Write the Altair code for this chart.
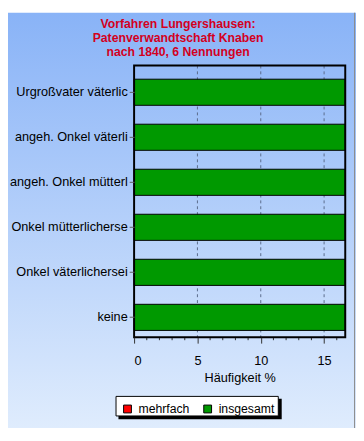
import altair as alt
import pandas as pd

categories = ["Urgroßvater väterlic", "angeh. Onkel väterli", "angeh. Onkel mütterl",
              "Onkel mütterlicherse", "Onkel väterlichersei", "keine"]
values = [16.67, 16.67, 16.67, 16.67, 16.67, 16.67]
series = ["insgesamt"] * 6
legend_names = ["mehrfach", "insgesamt"]
legend_colors = ["#ff0000", "#009900"]
grid_values = [5, 10, 15]
major_ticks = [0, 5, 10, 15]
minor_ticks = [1, 2, 3, 4, 6, 7, 8, 9, 11, 12, 13, 14, 16]
title_lines = ["Vorfahren Lungershausen:", "Patenverwandtschaft Knaben", "nach 1840, 6 Nennungen"]

df = pd.DataFrame({"cat": categories, "val": values, "series": series})

FONT = "Liberation Sans"
W, H = 216, 278
one = alt.Data(values=[{"a": 1}])
xscale = alt.Scale(domain=[0, 16.67], nice=False)

bg = alt.Chart(one).mark_rect(
    color=alt.Gradient(gradient="linear", x1=0, y1=0, x2=0, y2=1,
                       stops=[alt.GradientStop(offset=0, color="#89b3f7"),
                              alt.GradientStop(offset=1, color="#dfecfd")])
).encode(x=alt.value(-129), x2=alt.value(227), y=alt.value(-54), y2=alt.value(371))

edge = alt.Chart(one).mark_rule(color="#8a8a8a", strokeWidth=1).encode(
    x=alt.value(225.5), y=alt.value(-54), y2=alt.value(371))

title = alt.Chart(alt.Data(values=[{"t": "\n".join(title_lines)}])).mark_text(
    lineBreak="\n", fontSize=12.5, fontWeight="bold", color="#d4001e", font=FONT,
    lineHeight=14, align="center", baseline="middle"
).encode(text="t:N", x=alt.value(45), y=alt.value(-42))

grid = alt.Chart(pd.DataFrame({"g": grid_values})).mark_rule(
    color="#5a6a8a", strokeDash=[3, 3], strokeWidth=1
).encode(x=alt.X("g:Q", scale=xscale))

minor = alt.Chart(pd.DataFrame({"m": minor_ticks})).mark_rule(
    color="#303030", strokeWidth=1
).encode(x=alt.X("m:Q", scale=xscale), y=alt.value(H), y2=alt.value(H + 3))

bars = alt.Chart(df).mark_bar(stroke="#000000", strokeWidth=1).encode(
    x=alt.X("val:Q", scale=xscale,
            axis=alt.Axis(values=major_ticks, title="Häufigkeit %", tickSize=6,
                          labelPadding=12, titlePadding=4, grid=False, domain=False,
                          labelOverlap=False, tickColor="#303030", zindex=1)),
    y=alt.Y("cat:N", sort=categories,
            scale=alt.Scale(paddingInner=0.42, paddingOuter=0, range=[14, 271]),
            axis=alt.Axis(title=None, tickSize=5, labelPadding=2, grid=False, domain=False,
                          tickColor="#606060", zindex=1)),
    color=alt.Color("series:N", scale=alt.Scale(domain=legend_names, range=legend_colors),
                    legend=alt.Legend(orient="none", legendX=-13, legendY=345, direction="horizontal",
                                      title=None, symbolType="square", symbolSize=64,
                                      symbolStrokeColor="#000000", symbolStrokeWidth=1,
                                      labelFontSize=12.5, labelOffset=5, columnPadding=12,
                                      padding=0))
)

frame = alt.Chart(one).mark_rect(fill=None, stroke="#000000", strokeWidth=2).encode(
    x=alt.value(0), x2=alt.value(W), y=alt.value(0), y2=alt.value(H))

shadow = alt.Chart(one).mark_rect(fill="#000000").encode(
    x=alt.value(-16), x2=alt.value(151), y=alt.value(341), y2=alt.value(362))
box = alt.Chart(one).mark_rect(fill="#ffffff", stroke="#000000", strokeWidth=1).encode(
    x=alt.value(-18.5), x2=alt.value(147.5), y=alt.value(338.5), y2=alt.value(358.5))

chart = alt.layer(bg, edge, title, grid, minor, bars, frame, shadow, box).properties(
    width=W, height=H,
    autosize=alt.AutoSizeParams(type="none"),
    padding={"left": 129, "top": 54, "right": 11, "bottom": 88},
).configure(
    font=FONT
).configure_view(
    strokeWidth=0
).configure_axis(
    labelFont=FONT, titleFont=FONT, labelFontSize=13, titleFontSize=13,
    labelColor="#000000", titleColor="#000000", titleFontWeight="normal"
).configure_legend(
    labelFont=FONT, labelColor="#000000"
)

chart.save("out.html", embed_options={"renderer": "svg", "actions": False})
